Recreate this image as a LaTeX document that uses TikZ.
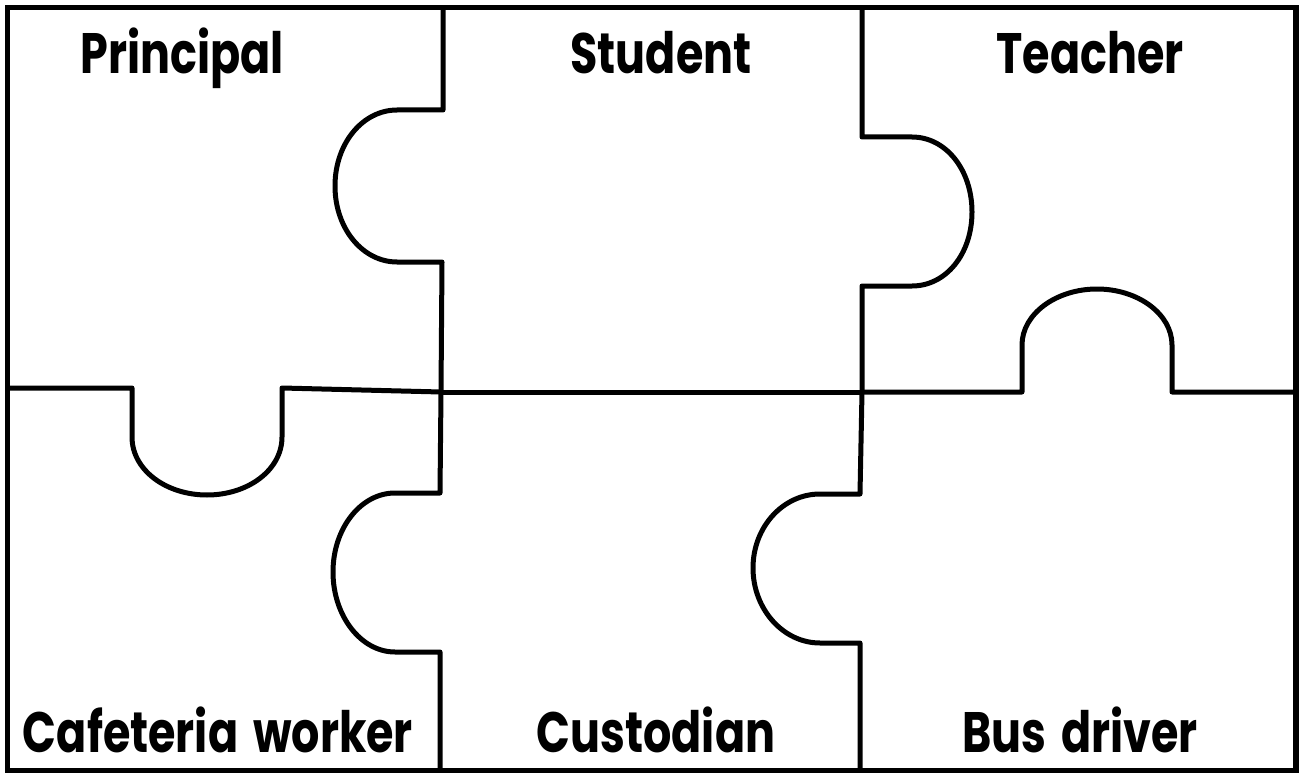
\documentclass[tikz,border=0pt]{standalone}
\usepackage{fontspec}
\usepackage{tikz}
\newfontfamily\piecefont{Poppins}[FakeStretch=0.78,WordSpace=1.6]
\tikzset{
    edgeline/.style={
           draw=black,
           line width=5pt,
           line join=round,
           },
    frameline/.style={
           draw=black,
           line width=5.5pt,
           },
    role/.style={
           font=\piecefont\fontsize{57}{60}\selectfont\bfseries,
           inner sep=0pt,
           anchor=base,
           },
}

\begin{document}
\begin{tikzpicture}[x=1pt,y=-1pt]
      \useasboundingbox (0,0) rectangle (1299,773);

      % OUTER FRAME
      \draw[frameline] (7.5,7.5) rectangle (1296,771);

      % CUT PRINCIPAL / STUDENT (knob to the left)
      \draw[edgeline] (443,8) -- (443,110) -- (397,110)
          .. controls (363,110) and (335,143) .. (335,186)
          .. controls (335,229) and (363,262) .. (397,262)
          -- (442,262) -- (441,392);

      % CUT STUDENT / TEACHER (knob to the right)
      \draw[edgeline] (862,8) -- (862,137) -- (912,137)
          .. controls (946,137) and (972,170) .. (972,212)
          .. controls (972,254) and (946,286) .. (912,286)
          -- (862,286) -- (862,392);

      % CUT PRINCIPAL / CAFETERIA WORKER (knob down)
      \draw[edgeline] (7,388) -- (132,388) -- (132,437)
          .. controls (132,470) and (166,495) .. (207,495)
          .. controls (248,495) and (282,470) .. (282,437)
          -- (282,388) -- (441,392);

      % CUT STUDENT / CUSTODIAN
      \draw[edgeline] (441,392) -- (862,392);

      % CUT TEACHER / BUS DRIVER (knob up)
      \draw[edgeline] (862,392) -- (1022,392) -- (1022,345)
          .. controls (1022,314) and (1056,289) .. (1097,289)
          .. controls (1138,289) and (1172,314) .. (1172,345)
          -- (1172,392) -- (1296,392);

      % CUT CAFETERIA WORKER / CUSTODIAN (knob to the left)
      \draw[edgeline] (441,392) -- (440,493) -- (395,493)
          .. controls (361,493) and (333,528) .. (333,572)
          .. controls (333,616) and (361,652) .. (395,652)
          -- (440,652) -- (440,771);

      % CUT CUSTODIAN / BUS DRIVER (knob to the left)
      \draw[edgeline] (862,392) -- (860,494) -- (820,494)
          .. controls (783,494) and (753,527) .. (753,568)
          .. controls (753,609) and (783,643) .. (820,643)
          -- (860,643) -- (860,771);

      % LABELS OF THE PIECES
      \node[role] (PZ_PRINCIPAL) at (182,74) {Principal};
      \node[role] (PZ_STUDENT)   at (661,74) {Student};
      \node[role] (PZ_TEACHER)   at (1090,74) {Teacher};
      \node[role] (PZ_CAFETERIA) at (218,752) {Cafeteria worker};
      \node[role] (PZ_CUSTODIAN) at (656,752) {Custodian};
      \node[role] (PZ_BUSDRIVER) at (1080,752) {Bus driver};
\end{tikzpicture}
\end{document}
